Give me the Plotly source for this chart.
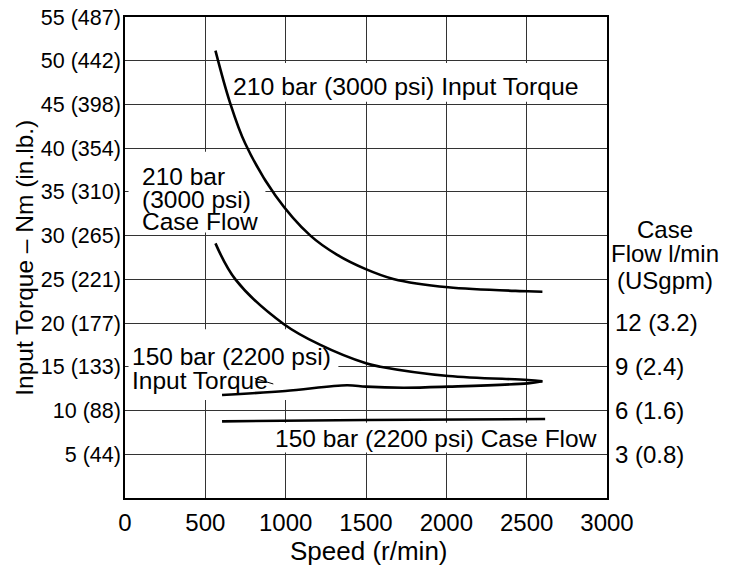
import plotly.graph_objects as go

# ---- data ----
speed_ticks = [0, 500, 1000, 1500, 2000, 2500, 3000]
torque_ticks = [5, 10, 15, 20, 25, 30, 35, 40, 45, 50, 55]
torque_ticktext = ["5 (44)", "10 (88)", "15 (133)", "20 (177)", "25 (221)", "30 (265)",
                   "35 (310)", "40 (354)", "45 (398)", "50 (442)", "55 (487)"]
flow_ticks = [3, 6, 9, 12]
flow_ticktext = ["3 (0.8)", "6 (1.6)", "9 (2.4)", "12 (3.2)"]

# 210 bar (3000 psi) input torque, Nm
t210_speed = [563, 652, 749, 936, 1154, 1321, 1495, 1670, 2012, 2507, 2598]
t210_torque = [51.15, 45.3, 40.5, 34.6, 30.0, 27.8, 26.2, 25.05, 24.09, 23.64, 23.59]

# 210 bar (3000 psi) case flow, l/min
f210_speed = [563, 687, 987, 1216, 1500, 1589, 2013, 2507, 2598]
f210_flow = [17.47, 15.0, 11.94, 10.5, 9.24, 9.01, 8.37, 8.10, 8.01]

# 150 bar (2200 psi) input torque, Nm
t150_speed = [604, 998, 1382, 1500, 1732, 2013, 2507, 2598]
t150_torque = [11.78, 12.24, 12.89, 12.73, 12.61, 12.73, 13.11, 13.34]

# 150 bar (2200 psi) case flow, l/min
f150_speed = [604, 1500, 2615]
f150_flow = [5.26, 5.35, 5.42]

FONT = "Liberation Sans, Arial, sans-serif"
LINE = dict(color="black", width=2.6, shape="spline", smoothing=1.0)

fig = go.Figure()
fig.add_trace(go.Scatter(x=t210_speed, y=t210_torque, mode="lines", line=LINE, yaxis="y"))
fig.add_trace(go.Scatter(x=f210_speed, y=f210_flow, mode="lines", line=LINE, yaxis="y2"))
fig.add_trace(go.Scatter(x=t150_speed, y=t150_torque, mode="lines", line=LINE, yaxis="y"))
fig.add_trace(go.Scatter(x=f150_speed, y=f150_flow, mode="lines", line=LINE, yaxis="y2"))

# white boxes behind the labels (hide gridlines, stay under the curves)
boxes = [
    (662, 2845, 45.3, 49.75),
    (22, 874, 30.35, 39.6),
    (22, 1328, 11.2, 19.3),
    (936, 2957, 5.2, 8.6),
]
for x0, x1, y0, y1 in boxes:
    fig.add_shape(type="rect", xref="x", yref="y", x0=x0, x1=x1, y0=y0, y1=y1,
                  fillcolor="white", line=dict(width=0), layer="between")

def lab(text, x, y, anchor="left", size=24.5):
    fig.add_annotation(text=text, x=x, y=y, xref="x", yref="y", showarrow=False,
                       xanchor=anchor, yanchor="middle",
                       font=dict(family=FONT, size=size, color="black"))

lab("210 bar (3000 psi) Input Torque", 662, 47.06, size=24.8)
lab("210 bar", 92, 36.74)
lab("(3000 psi)", 92, 34.08)
lab("Case Flow", 92, 31.6)
lab("150 bar (2200 psi)", 34, 16.16)
lab("Input Torque", 34, 13.49)
lab("150 bar (2200 psi) Case Flow", 2950, 6.83, anchor="right")

# leader line from "Input Torque"
fig.add_annotation(text="", x=923, y=13.04, xref="x", yref="y", showarrow=True,
                   arrowhead=0, arrowwidth=1, arrowcolor="black", ax=-20, ay=-6)

# axis titles
fig.add_annotation(text="Input Torque – Nm (in.lb.)", xref="paper", yref="paper",
                   x=-0.209, y=0.5, textangle=-90, showarrow=False,
                   xanchor="center", yanchor="middle",
                   font=dict(family=FONT, size=24.5, color="black"))
fig.add_annotation(text="Speed (r/min)", xref="paper", yref="paper",
                   x=0.507, y=-0.110, showarrow=False,
                   xanchor="center", yanchor="middle",
                   font=dict(family=FONT, size=26, color="black"))
for txt, yy in [("Case", 0.559), ("Flow l/min", 0.509), ("(USgpm)", 0.453)]:
    fig.add_annotation(text=txt, xref="paper", yref="paper", x=1.12, y=yy,
                       showarrow=False, xanchor="center", yanchor="middle",
                       font=dict(family=FONT, size=24, color="black"))

fig.update_layout(
    width=739, height=567,
    margin=dict(l=124.5, r=132, t=17, b=69, autoexpand=False),
    paper_bgcolor="white", plot_bgcolor="white",
    showlegend=False,
    font=dict(family=FONT, color="black"),
    xaxis=dict(range=[0, 3000], tickvals=speed_ticks,
               ticktext=[str(v) for v in speed_ticks],
               showgrid=True, gridcolor="#333333", gridwidth=1.2,
               showline=True, linecolor="black", linewidth=1.6, mirror=True,
               ticks="", zeroline=False, ticklabelstandoff=2, automargin=False,
               tickfont=dict(family=FONT, size=24, color="black")),
    yaxis=dict(range=[0, 55], tickvals=torque_ticks, ticktext=torque_ticktext,
               showgrid=True, gridcolor="#333333", gridwidth=1.2,
               showline=True, linecolor="black", linewidth=1.6, mirror=True,
               ticks="", zeroline=False, ticklabelstandoff=-2, automargin=False,
               tickfont=dict(family=FONT, size=21.5, color="black")),
    yaxis2=dict(range=[0, 33], overlaying="y", side="right",
                tickvals=flow_ticks, ticktext=flow_ticktext,
                showgrid=False, showline=False, zeroline=False, ticks="",
                ticklabelstandoff=7, automargin=False,
                tickfont=dict(family=FONT, size=24, color="black")),
)

fig.write_html("out.html", config={"displayModeBar": False},
               post_script="document.body.style.margin='0';")
